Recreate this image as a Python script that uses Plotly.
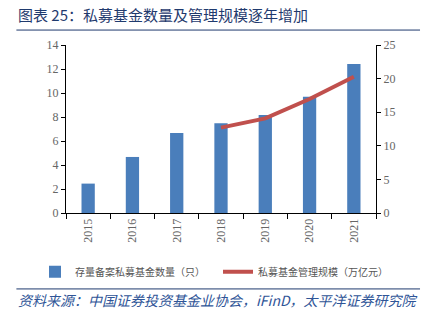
import plotly.graph_objects as go

years = ["2015", "2016", "2017", "2018", "2019", "2020", "2021"]
fund_count = [2.45, 4.67, 6.67, 7.47, 8.17, 9.69, 12.42]
scale_years = ["2018", "2019", "2020", "2021"]
scale_value = [12.71, 14.08, 16.96, 20.27]

title_text = "图表 25：私募基金数量及管理规模逐年增加"
source_text = "资料来源：中国证券投资基金业协会，iFinD，太平洋证券研究院"
bar_name = "存量备案私募基金数量（只）"
line_name = "私募基金管理规模（万亿元）"

CJK = "Noto Sans CJK SC"
SERIF = "Liberation Serif"
navy = "#1F3A6E"

fig = go.Figure()
fig.add_trace(go.Bar(x=years, y=fund_count, name=bar_name, marker_color="#4A7EBB",
                     marker_line_width=0, width=0.3, yaxis="y"))
fig.add_trace(go.Scatter(x=scale_years, y=scale_value, name=line_name, mode="lines",
                         line=dict(color="#C0504D", width=4), yaxis="y2"))

fig.update_layout(
    width=423, height=324,
    margin=dict(l=66, r=47, t=45, b=111),
    plot_bgcolor="white", paper_bgcolor="white",
    showlegend=True,
    legend=dict(orientation="h", x=-0.1, xanchor="left", y=-0.35, yanchor="middle",
                font=dict(family=CJK, size=10, color="#555555"),
                itemwidth=30, entrywidth=138, entrywidthmode="pixels", tracegroupgap=0,
                traceorder="normal", borderwidth=0),
    xaxis=dict(type="category", showline=True, linecolor="black", linewidth=1,
               ticks="outside", tickson="boundaries", ticklen=5, tickcolor="black",
               tickangle=-90, tickfont=dict(family=SERIF, size=12, color="#666666"),
               showgrid=False, zeroline=False),
    yaxis=dict(range=[0, 14], dtick=2, showline=True, linecolor="black", linewidth=1,
               ticks="outside", ticklen=4, tickcolor="black",
               tickfont=dict(family=SERIF, size=12, color="#666666"),
               showgrid=False, zeroline=False),
    yaxis2=dict(range=[0, 25], dtick=5, overlaying="y", side="right", showline=True,
                linecolor="black", linewidth=1, ticks="outside", ticklen=4, tickcolor="black",
                tickfont=dict(family=SERIF, size=12, color="#666666"),
                showgrid=False, zeroline=False),
    shapes=[
        dict(type="line", xref="paper", yref="paper", x0=-0.16, x1=1.142, y0=1.089, y1=1.089,
             line=dict(color=navy, width=1)),
        dict(type="line", xref="paper", yref="paper", x0=-0.16, x1=1.142, y0=-0.452, y1=-0.452,
             line=dict(color=navy, width=1)),
    ],
    annotations=[
        dict(text=title_text, xref="paper", yref="paper", x=-0.16, y=1.18, xanchor="left",
             yanchor="middle", showarrow=False, font=dict(family=CJK, size=15, color=navy)),
        dict(text="<i>" + source_text + "</i>", xref="paper", yref="paper", x=-0.16, y=-0.52,
             xanchor="left", yanchor="middle", showarrow=False,
             font=dict(family=CJK, size=14, color="#2F5597")),
    ],
)

fig.write_html("out.html")
